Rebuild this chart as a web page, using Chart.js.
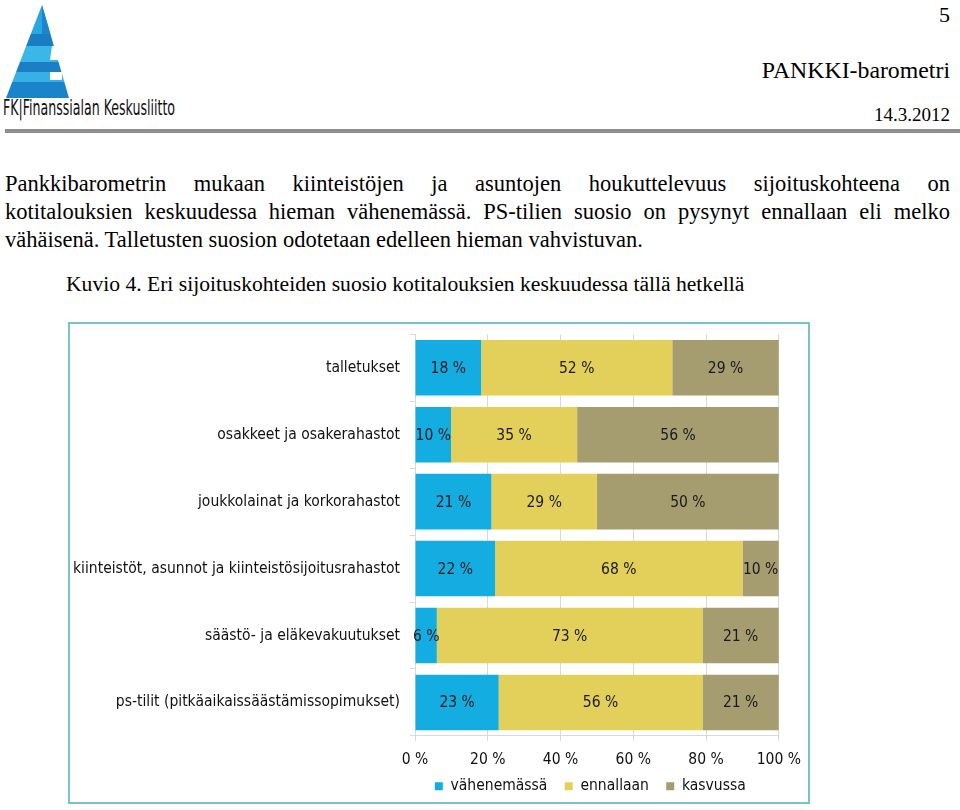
<!DOCTYPE html>
<html>
<head>
<meta charset="utf-8">
<script src="https://cdn.jsdelivr.net/npm/chart.js@4/dist/chart.umd.min.js"></script>
<style>
  html, body { margin:0; padding:0; background:#fff; }
  body { width:960px; height:810px; position:relative; overflow:hidden; }
  .serif { font-family:"Liberation Serif","Times New Roman",serif; color:#000; position:absolute; white-space:nowrap; }
  .pline { position:absolute; left:5px; width:945px; font-family:"Liberation Serif","Times New Roman",serif; font-size:22.5px; line-height:28px; color:#000; white-space:nowrap; }
  .just { text-align:justify; text-align-last:justify; white-space:normal; }
  #logoText { position:absolute; left:3px; top:96px; font-family:"Liberation Sans Narrow","DejaVu Sans Condensed",sans-serif; font-size:21px; line-height:24px; color:#111; white-space:nowrap; transform-origin:0 0; }
  #rule { position:absolute; left:5px; top:129px; width:955px; height:4px; background:#8e8e8e; }
  #box { position:absolute; left:68px; top:322px; width:738px; height:478px; border:2px solid #78c4ca; }
  #wrap { position:absolute; left:70px; top:315px; width:741px; height:489px; }
</style>
</head>
<body>
<svg style="position:absolute;left:0;top:0" width="90" height="100">
  <defs>
    <clipPath id="tri"><polygon points="42,5 6,98 69,98"/></clipPath>
  </defs>
  <g clip-path="url(#tri)">
    <rect x="0" y="0" width="90" height="34" fill="#2aa7e0"/>
    <rect x="42" y="0" width="40" height="34" fill="#1b86cc"/>
    <rect x="0" y="34" width="90" height="12" fill="#1a7dc3"/>
    <rect x="0" y="46" width="90" height="16" fill="#3bb6e8"/>
    <rect x="0" y="62" width="90" height="10" fill="#1b7fc5"/>
    <rect x="0" y="72" width="90" height="10" fill="#37b1e5"/>
    <rect x="0" y="82" width="90" height="16" fill="#1a84ca"/>
  </g>
  <polygon points="52,46 62,46 60,60 50,60" fill="#ffffff"/>
  <polygon points="50,72 62,72 62,80 50,80" fill="#ffffff"/>
</svg>
<div id="logoText">FK|Finanssialan Keskusliitto</div>

<div class="serif" style="right:10px; top:2px; font-size:22px; line-height:26px;">5</div>
<div class="serif" style="right:10px; top:56px; font-size:23.8px; line-height:28px;">PANKKI-barometri</div>
<div class="serif" style="right:10px; top:103px; font-size:19px; line-height:24px;">14.3.2012</div>
<div id="rule"></div>

<div class="pline just" style="top:170px;">Pankkibarometrin mukaan kiinteistöjen ja asuntojen houkuttelevuus sijoituskohteena on</div>
<div class="pline just" style="top:198px;">kotitalouksien keskuudessa hieman vähenemässä. PS-tilien suosio on pysynyt ennallaan eli melko</div>
<div class="pline" style="top:226px;">vähäisenä. Talletusten suosion odotetaan edelleen hieman vahvistuvan.</div>
<div class="pline" style="top:270px; left:66px; width:auto; font-size:21.6px;">Kuvio 4. Eri sijoituskohteiden suosio kotitalouksien keskuudessa tällä hetkellä</div>

<div id="box"></div>
<div id="wrap"><canvas id="c"></canvas></div>

<script>
// ---- data ----
const categories = [
  'talletukset',
  'osakkeet ja osakerahastot',
  'joukkolainat ja korkorahastot',
  'kiinteistöt, asunnot ja kiinteistösijoitusrahastot',
  'säästö- ja eläkevakuutukset',
  'ps-tilit (pitkäaikaissäästämissopimukset)'
];
const seriesNames = ['vähenemässä', 'ennallaan', 'kasvussa'];
const vahenemassa = [18, 10, 21, 22, 6, 23];
const ennallaan   = [52, 35, 29, 68, 73, 56];
const kasvussa    = [29, 56, 50, 10, 21, 21];
const xTickValues = [0, 20, 40, 60, 80, 100];
const seriesColors = ['#14ade2', '#e3d05a', '#a59d6f'];

// logo text width fit
const lt = document.getElementById('logoText');
lt.style.transform = 'scaleX(' + (172 / lt.offsetWidth) + ')';

// pick a Tahoma-like font if available
const mctx = document.createElement('canvas').getContext('2d');
function w(f) { mctx.font = f; return mctx.measureText('kiinteistöt, asunnot ja kiinteistösijoitusrahastot').width; }
const hasCond = w('15px "DejaVu Sans Condensed", monospace') === w('15px "DejaVu Sans Condensed", serif');
const FONT = hasCond ? 'DejaVu Sans Condensed' : 'DejaVu Sans';
const FS = hasCond ? 15.5 : 14;

const raw = [vahenemassa, ennallaan, kasvussa];
const totals = categories.map((_, i) => raw.reduce((s, a) => s + a[i], 0));
const shares = raw.map(a => a.map((v, i) => v / totals[i] * 100));

Chart.defaults.font.family = FONT;
Chart.defaults.font.size = FS;
Chart.defaults.color = '#111';

const labelPlugin = {
  id: 'segLabels',
  afterDatasetsDraw(chart) {
    const ctx = chart.ctx;
    ctx.save();
    ctx.font = FS + 'px "' + FONT + '"';
    ctx.fillStyle = '#1a1a1a';
    ctx.textAlign = 'center';
    ctx.textBaseline = 'middle';
    chart.data.datasets.forEach((ds, di) => {
      const meta = chart.getDatasetMeta(di);
      meta.data.forEach((el, i) => {
        const p = el.getProps(['x', 'y', 'base'], true);
        ctx.fillText(ds.rawValues[i] + ' %', (p.x + p.base) / 2, p.y + 1);
      });
    });
    ctx.restore();
  }
};

const NB = '\u00a0';
new Chart(document.getElementById('c'), {
  type: 'bar',
  data: {
    labels: categories,
    datasets: seriesNames.map((n, k) => ({
      label: n,
      data: shares[k],
      rawValues: raw[k],
      backgroundColor: seriesColors[k],
      borderWidth: 0,
      barPercentage: 0.83,
      categoryPercentage: 1.0
    }))
  },
  options: {
    indexAxis: 'y',
    responsive: true,
    maintainAspectRatio: false,
    animation: false,
    layout: { padding: { top: 0, right: 22, left: 0, bottom: 0 } },
    scales: {
      x: {
        stacked: true,
        min: 0, max: 100,
        afterBuildTicks(scale) { scale.ticks = xTickValues.map(v => ({ value: v })); },
        afterFit(scale) { scale.height = scale.height - 5; },
        ticks: { callback: v => v + ' %', padding: 10, color: '#111' },
        grid: { color: '#d9d9d9', tickLength: 5, drawTicks: true },
        border: { color: '#d9d9d9' }
      },
      y: {
        stacked: true,
        afterFit(scale) { scale.width = 345; },
        ticks: { padding: 10, color: '#111' },
        grid: { offset: true, drawOnChartArea: false, tickLength: 5, color: '#d9d9d9' },
        border: { color: '#d9d9d9' }
      }
    },
    plugins: {
      legend: {
        position: 'bottom',
        fullSize: false,
        labels: {
          boxWidth: 8, boxHeight: 8, padding: 4, color: '#111',
          generateLabels(chart) {
            const items = Chart.defaults.plugins.legend.labels.generateLabels(chart);
            items.forEach((it, i) => {
              it.lineWidth = 0;
              it.text = it.text + NB + NB + NB;
            });
            return items;
          }
        }
      },
      tooltip: { enabled: false }
    }
  },
  plugins: [labelPlugin]
});
</script>
</body>
</html>
